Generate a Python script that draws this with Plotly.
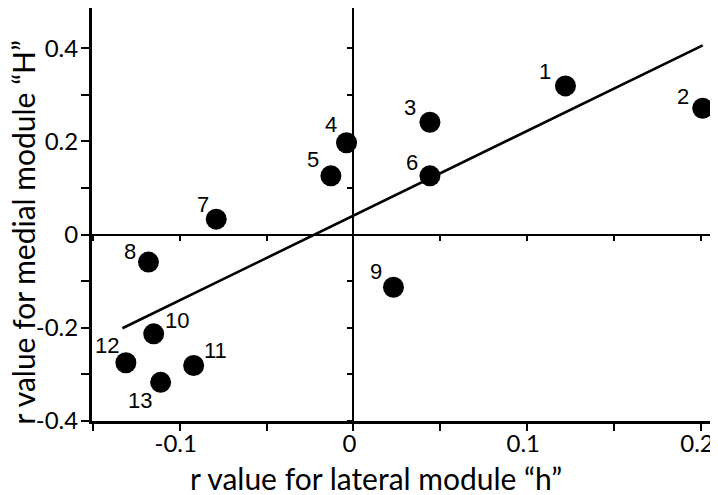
import plotly.graph_objects as go

# ---- data ----
point_labels = ["1", "2", "3", "4", "5", "6", "7", "8", "9", "10", "11", "12", "13"]
lateral_h = [0.122, 0.201, 0.044, -0.004, -0.013, 0.044, -0.079, -0.118, 0.023, -0.115, -0.092, -0.131, -0.111]
medial_H = [0.319, 0.271, 0.241, 0.197, 0.126, 0.126, 0.033, -0.059, -0.113, -0.213, -0.281, -0.275, -0.317]

fit_x = [-0.133, 0.201]
fit_y = [-0.201, 0.406]

x_tick_vals = [-0.1, 0, 0.1, 0.2]
x_tick_text = ["-0.1", "0", "0.1", "0.2"]
y_tick_vals = [-0.4, -0.2, 0, 0.2, 0.4]
y_tick_text = ["-0.4", "-0.2", "0", "0.2", "0.4"]

x_title = "r value for lateral module \u201ch\u201d"
y_title = "r value for medial module \u201cH\u201d"

# ---- layout constants (styles / positions) ----
# the page body has an 8px margin, so the figure is drawn 8px right / down
OFF = 8
W, H = 718 - OFF, 495 - OFF
ML, MR, MT, MB = 91.7 - OFF, 0, 0, 495 - 420.7
X_RANGE = [-0.1505, 0.2098]
Y_RANGE = [-0.4, 0.4861]
# label offsets in pixels (dx right, dy down) from point centre
label_offsets = [(-20, -14), (-20, -12), (-20, -15), (-16, -18), (-18, -16), (-18, -13),
                 (-13, -15), (-18, -11), (-17, -16), (23, -13), (22, -15), (-19, -17), (-21, 18)]

TICK_FONT = dict(family="Lato", size=24, color="black")
TITLE_FONT = dict(family="Lato", size=30, color="black")
LABEL_FONT = dict(family="Liberation Sans", size=22, color="black")

pw = W - ML - MR
ph = H - MT - MB


def px_to_paper_x(px):
    # px given in window pixels
    return (px - OFF - ML) / pw


def px_to_paper_y(py):
    return (H - MB - (py - OFF)) / ph


fig = go.Figure()

fig.add_trace(go.Scatter(
    x=lateral_h, y=medial_H, mode="markers",
    marker=dict(size=21, color="black", line=dict(width=0)),
    xaxis="x", yaxis="y", showlegend=False, hoverinfo="skip",
))

fig.add_trace(go.Scatter(
    x=fit_x, y=fit_y, mode="lines",
    line=dict(color="black", width=2.6),
    xaxis="x2", yaxis="y2", showlegend=False, hoverinfo="skip",
))

for lab, xv, yv, (dx, dy) in zip(point_labels, lateral_h, medial_H, label_offsets):
    fig.add_annotation(x=xv, y=yv, xref="x", yref="y", text=lab, showarrow=False,
                       xshift=dx, yshift=-dy, font=LABEL_FONT,
                       xanchor="center", yanchor="middle")

# axis titles
fig.add_annotation(x=px_to_paper_x(376), y=px_to_paper_y(478), xref="paper", yref="paper",
                   text=x_title, showarrow=False, font=TITLE_FONT,
                   xanchor="center", yanchor="middle")
fig.add_annotation(x=px_to_paper_x(23), y=px_to_paper_y(232), xref="paper", yref="paper",
                   text=y_title, showarrow=False, font=TITLE_FONT, textangle=-90,
                   xanchor="center", yanchor="middle")

y0_pos = (0 - Y_RANGE[0]) / (Y_RANGE[1] - Y_RANGE[0])
x0_pos = (0 - X_RANGE[0]) / (X_RANGE[1] - X_RANGE[0])

fig.update_layout(
    width=W, height=H,
    margin=dict(l=ML, r=MR, t=MT, b=MB, pad=0),
    plot_bgcolor="white", paper_bgcolor="white",
    showlegend=False,
    xaxis=dict(
        range=X_RANGE, domain=[0, 1], showgrid=False, zeroline=False,
        showline=True, linecolor="black", linewidth=3,
        ticks="outside", ticklen=7, tickwidth=2, tickcolor="black",
        tickvals=x_tick_vals, ticktext=x_tick_text, tickfont=TICK_FONT,
        ticklabelstandoff=-8, ticklabelshift=-4, ticklabeloverflow="allow",
        minor=dict(dtick=0.05, tick0=0, ticks="outside", ticklen=7, tickwidth=2, tickcolor="black"),
        automargin=False, fixedrange=True,
    ),
    yaxis=dict(
        range=Y_RANGE, domain=[0, 1], showgrid=False, zeroline=False,
        showline=True, linecolor="black", linewidth=3,
        ticks="outside", ticklen=8, tickwidth=2, tickcolor="black",
        tickvals=y_tick_vals, ticktext=y_tick_text, tickfont=TICK_FONT,
        ticklabelstandoff=-2, ticklabeloverflow="allow",
        minor=dict(dtick=0.1, tick0=0, ticks="outside", ticklen=8, tickwidth=2, tickcolor="black"),
        automargin=False, fixedrange=True,
    ),
    xaxis2=dict(
        range=X_RANGE, overlaying="x", anchor="free", position=y0_pos, side="bottom",
        showgrid=False, zeroline=False, showline=True, linecolor="black", linewidth=1.8,
        ticks="outside", ticklen=6, tickwidth=1.8, tickcolor="black",
        tick0=0, dtick=0.05, showticklabels=False, automargin=False, fixedrange=True,
    ),
    yaxis2=dict(
        range=Y_RANGE, overlaying="y", anchor="free", position=x0_pos, side="left",
        showgrid=False, zeroline=False, showline=True, linecolor="black", linewidth=1.8,
        ticks="outside", ticklen=6, tickwidth=1.8, tickcolor="black",
        tick0=0, dtick=0.1, showticklabels=False, automargin=False, fixedrange=True,
    ),
)

fig.write_html("out.html", config=dict(displayModeBar=False))
